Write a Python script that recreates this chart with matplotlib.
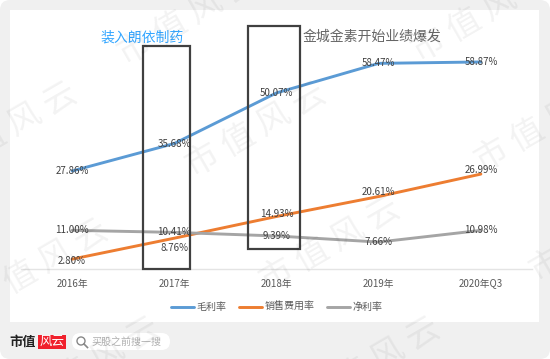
import matplotlib
matplotlib.use('Agg')
from matplotlib import pyplot as plt
from matplotlib.patches import FancyBboxPatch, Rectangle, Circle

plt.rcParams['font.family'] = ['Noto Sans CJK SC', 'DejaVu Sans']

# datos
categorias = ['2016年', '2017年', '2018年', '2019年', '2020年Q3']
maolilv = [27.86, 35.68, 50.07, 58.47, 58.87]
xiaoshou = [2.80, 8.76, 14.93, 20.61, 26.99]
jinglilv = [11.00, 10.41, 9.39, 7.66, 10.98]

# desplazamiento vertical de cada etiqueta (puntos)
dy_mao = [0, 0, 0, 0, 0]
dy_xiao = [-1, -7, 2, 3, 3]
dy_jing = [0, 0, 0, 0, 0]

W, H = 550, 359
fig = plt.figure(figsize=(W / 100, H / 100), dpi=100, facecolor='white')

# fondo en pixeles
fondo = fig.add_axes([0, 0, 1, 1], zorder=0)
fondo.set_xlim(0, W)
fondo.set_ylim(H, 0)
fondo.axis('off')
fondo.add_patch(FancyBboxPatch((10, 10), W - 20, H - 20, boxstyle='round,pad=10,rounding_size=10',
                               fc='#f0f0f0', ec='none'))
fondo.add_patch(Rectangle((10, 10), 529, 312, fc='white', ec='none'))

# logo y buscador
fondo.text(23, 342, '市值', fontsize=9.5, fontweight='bold', family='serif', color='#222222',
           ha='center', va='center')
fondo.texts[-1].set_fontfamily(['Noto Sans CJK SC'])
fondo.add_patch(Rectangle((38, 335), 28, 14, fc='#f0202c', ec='none'))
fondo.text(52, 341.5, '风云', fontsize=9, color='white', style='italic', ha='center', va='center')
fondo.add_patch(FancyBboxPatch((80, 333), 82, 17, boxstyle='round,pad=0,rounding_size=8.5',
                               fc='white', ec='none', mutation_aspect=1))
fondo.add_patch(FancyBboxPatch((72, 333), 98, 17, boxstyle='round,pad=0,rounding_size=8.5',
                               fc='white', ec='none'))
fondo.add_patch(Circle((81, 341), 4, fc='none', ec='#888888', lw=1))
fondo.plot([84, 87.5], [344, 347.5], color='#888888', lw=1.2)
fondo.text(126.5, 341.5, '买股之前搜一搜', fontsize=7.2, color='#b0b0b0', ha='center', va='center')

# grafica
izq, der, base, arriba = 21, 532, 269, 20
ax = fig.add_axes([izq / W, (H - base) / H, (der - izq) / W, (base - arriba) / H], zorder=1)
ax.patch.set_alpha(0)
x = range(len(categorias))
ax.plot(x, maolilv, color='#5b9bd5', lw=2.1, label='毛利率', solid_capstyle='round')
ax.plot(x, xiaoshou, color='#ed7d31', lw=2.1, label='销售费用率', solid_capstyle='round')
ax.plot(x, jinglilv, color='#a5a5a5', lw=2.1, label='净利率', solid_capstyle='round')
ax.set_xlim(-0.5, 4.5)
ax.set_ylim(0, 70.8)
ax.set_xticks(list(x))
ax.set_xticklabels(categorias, fontsize=7, color='#595959')
ax.set_yticks([])
ax.tick_params(axis='x', length=0, pad=7)
for lado in ['top', 'left', 'right']:
    ax.spines[lado].set_visible(False)
ax.spines['bottom'].set_color('#e4e4e4')
ax.spines['bottom'].set_linewidth(1)

for serie, dys in [(maolilv, dy_mao), (xiaoshou, dy_xiao), (jinglilv, dy_jing)]:
    for i, v in enumerate(serie):
        ax.annotate('%.2f%%' % v, (i, v), xytext=(0, dys[i]), textcoords='offset points',
                    ha='center', va='center', fontsize=7, color='#404040')

ax.legend(loc='center', bbox_to_anchor=(0.5, -0.153), ncol=3, frameon=False, fontsize=7.2,
          labelcolor='#595959', handlelength=2.3, handletextpad=0.3, columnspacing=1.2,
          borderpad=0, borderaxespad=0)

# recuadros y titulos encima
sobre = fig.add_axes([0, 0, 1, 1], zorder=2)
sobre.set_xlim(0, W)
sobre.set_ylim(H, 0)
sobre.axis('off')
sobre.patch.set_alpha(0)
for x0, y0, x1, y1 in [(143, 46, 190, 269), (247.5, 26, 300, 249)]:
    sobre.add_patch(Rectangle((x0, y0), x1 - x0, y1 - y0, fc='none', ec='#404040', lw=1.6))
sobre.text(142.5, 38, '装入朗依制药', fontsize=10, color='#33a6ff', ha='center', va='center')
sobre.text(372, 37, '金城金素开始业绩爆发', fontsize=10, color='#666666', ha='center', va='center')

# marca de agua
for cx, cy in [(38, 267), (188, 18), (7, 130), (256, 130), (482, 15), (545, 125),
               (330, 245), (370, 365), (90, 365), (600, 235)]:
    sobre.text(cx, cy, '市 值 风 云', fontsize=24, color='black', alpha=0.05, rotation=30,
               rotation_mode='anchor', ha='center', va='center', clip_on=True)

fig.savefig('out.png', dpi=100)
